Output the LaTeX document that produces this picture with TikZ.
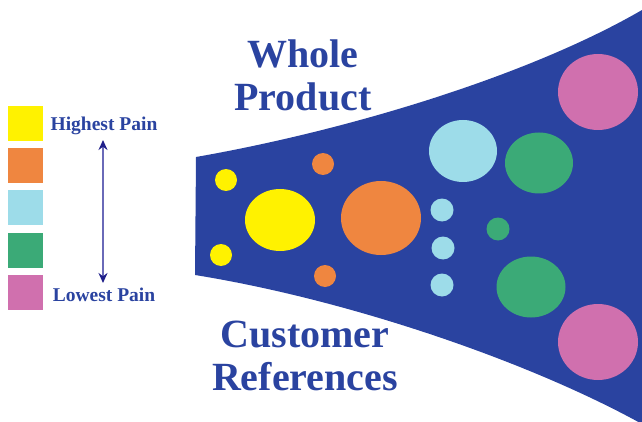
\documentclass[tikz,border=0pt]{standalone}
\usepackage{fontspec}
\setmainfont{Liberation Serif}
\usetikzlibrary{arrows.meta,shapes.geometric}
\definecolor{navy}{HTML}{2A43A0}
\definecolor{cyel}{HTML}{FFF200}
\definecolor{corg}{HTML}{EF8640}
\definecolor{cblu}{HTML}{9DDCE9}
\definecolor{cgrn}{HTML}{3BAA77}
\definecolor{cpnk}{HTML}{D070AE}
\definecolor{arrline}{HTML}{6A6AB8}
\definecolor{arrtip}{HTML}{1F1F8A}
\tikzset{
  blob/.style={ellipse, fill=#1, draw=none, inner sep=0pt},
  legbox/.style={rectangle, fill=#1, draw=none, minimum width=35pt, minimum height=35pt, inner sep=0pt},
  bigtext/.style={text=navy, font=\fontsize{40}{45}\selectfont\bfseries, align=center},
  legtext/.style={text=navy, font=\fontsize{19.5}{22}\selectfont\bfseries}
}
\begin{document}
\begin{tikzpicture}[x=1pt,y=-1pt]
\useasboundingbox (0,0) rectangle (642,422);
% funnel
\fill[navy] (196,157) .. controls (350,130) and (530,75) .. (642,10) -- (642,424)
  .. controls (530,362) and (350,300) .. (195,275) -- cycle;
% circles
\node[blob=cyel, minimum width=22pt, minimum height=22pt] (y1) at (226,180) {};
\node[blob=cyel, minimum width=22pt, minimum height=22pt] (y2) at (221,255) {};
\node[blob=cyel, minimum width=70pt, minimum height=62pt] (y3) at (280,220) {};
\node[blob=corg, minimum width=22pt, minimum height=22pt] (o1) at (323,164) {};
\node[blob=corg, minimum width=22pt, minimum height=22pt] (o2) at (325,276) {};
\node[blob=corg, minimum width=80pt, minimum height=74pt] (o3) at (381,218) {};
\node[blob=cblu, minimum width=68pt, minimum height=62pt] (b1) at (463,151) {};
\node[blob=cblu, minimum width=23pt, minimum height=23pt] (b2) at (442,210) {};
\node[blob=cblu, minimum width=23pt, minimum height=23pt] (b3) at (443,248) {};
\node[blob=cblu, minimum width=23pt, minimum height=23pt] (b4) at (442,285) {};
\node[blob=cgrn, minimum width=68pt, minimum height=61pt] (g1) at (539,163) {};
\node[blob=cgrn, minimum width=23pt, minimum height=23pt] (g2) at (498,229) {};
\node[blob=cgrn, minimum width=69pt, minimum height=61pt] (g3) at (531,287) {};
\node[blob=cpnk, minimum width=80pt, minimum height=76pt] (p1) at (598,92) {};
\node[blob=cpnk, minimum width=80pt, minimum height=76pt] (p2) at (598,342) {};
% legend
\node[legbox=cyel] (l1) at (25.5,123.5) {};
\node[legbox=corg] (l2) at (25.5,165.5) {};
\node[legbox=cblu] (l3) at (25.5,207.5) {};
\node[legbox=cgrn] (l4) at (25.5,250.5) {};
\node[legbox=cpnk] (l5) at (25.5,292.5) {};
\node[legtext] (hp) at (104,126) {Highest Pain};
\node[legtext] (lp) at (104,295) {Lowest Pain};
\coordinate (at) at (103,140);
\coordinate (ab) at (103,283);
\draw[arrline, line width=1.8pt, {Stealth[length=10pt,width=9pt,color=arrtip]}-{Stealth[length=10pt,width=9pt,color=arrtip]}] (at) -- (ab);
% titles
\node[bigtext] (wp) at (303,75) {Whole\\[-2pt]Product};
\node[bigtext] (cr) at (305,356) {Customer\\[-2pt]References};
\end{tikzpicture}
\end{document}
